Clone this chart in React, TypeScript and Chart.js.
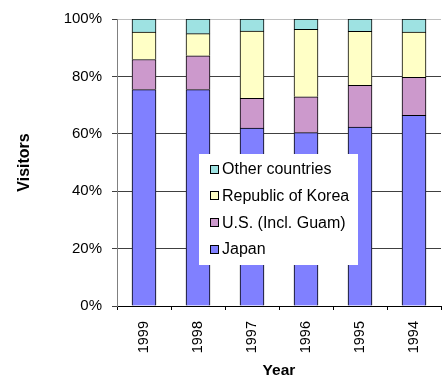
import React, { useEffect, useRef } from "react";
import { Chart, registerables } from "chart.js";

Chart.register(...registerables);

const years = ["1999", "1998", "1997", "1996", "1995", "1994"];
const japan = [75.4, 75.4, 62.0, 60.4, 62.3, 66.4];
const usGuam = [10.5, 11.8, 10.4, 12.5, 14.6, 13.3];
const korea = [9.5, 7.7, 23.4, 23.5, 18.8, 15.7];
const other = [4.6, 5.1, 4.2, 3.6, 4.3, 4.6];
const yTicks = [0, 20, 40, 60, 80, 100];

const FONT = "'Liberation Sans', Arial, Helvetica, sans-serif";

const legendPlugin = {
  id: "boxLegend",
  afterDraw(chart: any) {
    const ctx = chart.ctx as CanvasRenderingContext2D;
    const bx = 199, by = 154, bw = 159, bh = 111;
    ctx.save();
    ctx.fillStyle = "#ffffff";
    ctx.fillRect(bx, by, bw, bh);
    const items = [...chart.data.datasets].reverse();
    ctx.font = `16px ${FONT}`;
    ctx.textBaseline = "middle";
    ctx.textAlign = "left";
    items.forEach((ds: any, i: number) => {
      const cy = 168.7 + i * 26.7;
      const sy = Math.round(cy - 4);
      ctx.fillStyle = ds.backgroundColor;
      ctx.fillRect(210, sy, 8, 8);
      ctx.strokeStyle = "#000";
      ctx.lineWidth = 1;
      ctx.strokeRect(210.5, sy + 0.5, 8, 8);
      ctx.fillStyle = "#000";
      ctx.fillText(ds.label, 222, cy + 1);
    });
    ctx.restore();
  },
};

export default function App() {
  const ref = useRef<HTMLCanvasElement | null>(null);
  useEffect(() => {
    if (!ref.current) return;
    const chart = new Chart(ref.current, {
      type: "bar",
      data: {
        labels: years,
        datasets: [
          { label: "Japan", data: japan, backgroundColor: "#8080FF" },
          { label: "U.S. (Incl. Guam)", data: usGuam, backgroundColor: "#CC99CC" },
          { label: "Republic of Korea", data: korea, backgroundColor: "#FFFFC6" },
          { label: "Other countries", data: other, backgroundColor: "#9EE2E2" },
        ].map((d) => ({
          ...d,
          borderColor: "#000",
          borderWidth: 1,
          barThickness: 24,
        })),
      },
      options: {
        responsive: false,
        animation: false,
        layout: { padding: { top: 19, right: 7, left: 0, bottom: 0 } },
        plugins: { legend: { display: false }, tooltip: { enabled: false } },
        scales: {
          x: {
            stacked: true,
            afterFit: (s: any) => {
              s.height = 71;
            },
            grid: {
              offset: true,
              drawOnChartArea: false,
              drawTicks: true,
              tickLength: 4,
              color: "#000",
            },
            border: { color: "#000" },
            ticks: {
              minRotation: 90,
              maxRotation: 90,
              padding: 11,
              color: "#000",
              font: { family: FONT, size: 14.5 },
            },
            title: {
              display: true,
              text: "Year",
              color: "#000",
              font: { family: FONT, size: 15.5, weight: "bold", lineHeight: 1 },
              padding: { top: 0, bottom: -1 },
            },
          },
          y: {
            stacked: true,
            min: 0,
            max: 100,
            afterFit: (s: any) => {
              s.width = 117;
            },
            afterBuildTicks: (s: any) => {
              s.ticks = yTicks.map((v) => ({ value: v }));
            },
            grid: {
              color: (c: any) => (c.tick && c.tick.value === 100 ? "#c0c0c0" : "#404040"),
              tickColor: "#404040",
              tickLength: 5,
            },
            border: { color: "#808080" },
            ticks: {
              padding: 10,
              color: "#000",
              font: { family: FONT, size: 15 },
              callback: (v: any) => `${v}%`,
            },
            title: {
              display: true,
              text: "Visitors",
              color: "#000",
              font: { family: FONT, size: 16, weight: "bold", lineHeight: 1 },
              padding: { top: 17, bottom: 0 },
            },
          },
        },
      },
      plugins: [legendPlugin],
    } as any);
    return () => chart.destroy();
  }, []);
  return (
    <div style={{ position: "absolute", left: 0, top: 0, width: 448, height: 377, background: "#fff" }}>
      <canvas ref={ref} width={448} height={377} style={{ display: "block" }} />
    </div>
  );
}
